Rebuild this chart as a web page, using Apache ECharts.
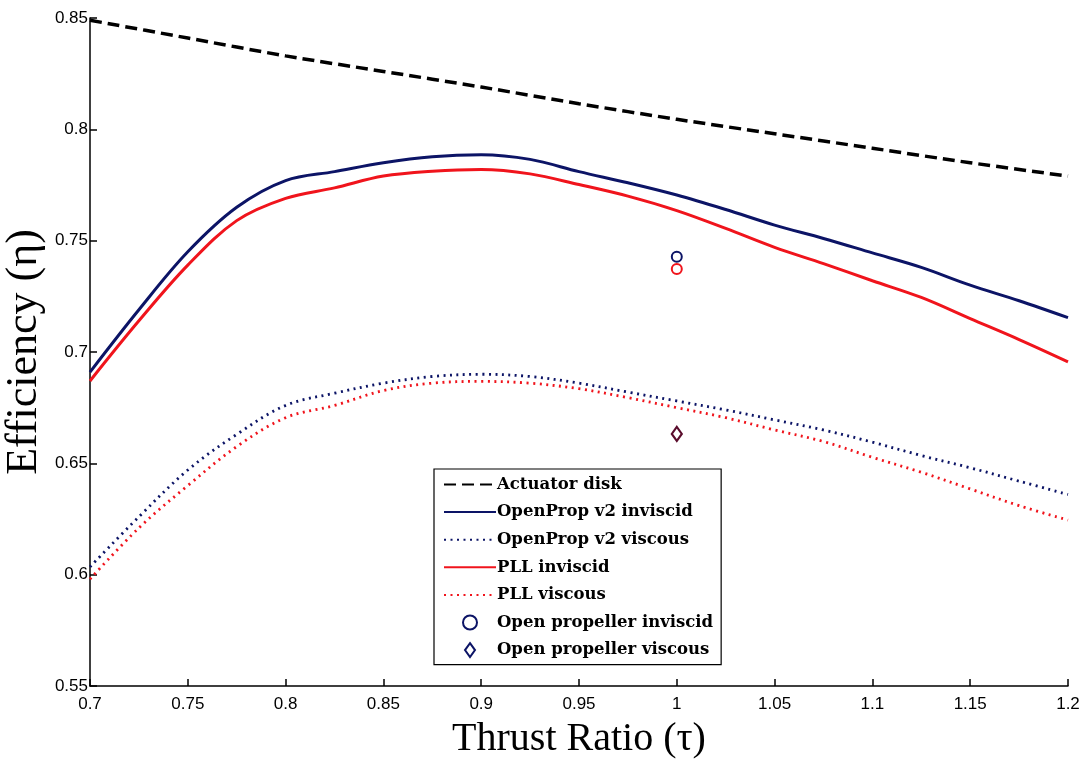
<!DOCTYPE html>
<html>
<head>
<meta charset="utf-8">
<title>Efficiency vs Thrust Ratio</title>
<script src="https://cdn.jsdelivr.net/npm/echarts@6/dist/echarts.min.js"></script>
<style>
  html, body { margin: 0; padding: 0; background: #fff; }
  #chart { width: 1083px; height: 761px; }
</style>
</head>
<body>
<div id="chart"></div>
<script>
// Thrust ratio samples for the lifting-line curves
const tau = [0.700, 0.725, 0.750, 0.775, 0.800, 0.825, 0.850, 0.875, 0.900, 0.925, 0.950,
             0.975, 1.000, 1.025, 1.050, 1.075, 1.100, 1.125, 1.150, 1.175, 1.200];

// Thrust ratio samples for the actuator disk limit
const tauDisk = [0.70, 0.75, 0.80, 0.85, 0.90, 0.95, 1.00, 1.05, 1.10, 1.15, 1.20];
const actuatorDisk = [0.849, 0.841, 0.833, 0.826, 0.819, 0.8115, 0.8045, 0.798, 0.7915, 0.785, 0.779];

const openPropInviscid = [0.691, 0.719, 0.745, 0.765, 0.777, 0.781, 0.785, 0.7877, 0.7886, 0.7865, 0.781,
                          0.776, 0.7705, 0.764, 0.757, 0.751, 0.7445, 0.738, 0.730, 0.723, 0.7154];
const openPropViscous = [0.6035, 0.626, 0.647, 0.663, 0.676, 0.6815, 0.686, 0.689, 0.690, 0.689, 0.686,
                         0.682, 0.678, 0.674, 0.6695, 0.665, 0.6595, 0.6535, 0.648, 0.642, 0.636];
const pllInviscid = [0.687, 0.714, 0.739, 0.759, 0.769, 0.7737, 0.779, 0.7812, 0.782, 0.780, 0.7752,
                     0.770, 0.7635, 0.7555, 0.747, 0.7397, 0.732, 0.7245, 0.715, 0.7056, 0.6956];
const pllViscous = [0.598, 0.621, 0.640, 0.6575, 0.6705, 0.676, 0.6827, 0.686, 0.6868, 0.686, 0.6835,
                    0.6795, 0.675, 0.6705, 0.665, 0.6598, 0.6527, 0.646, 0.6385, 0.631, 0.6245];

// Open propeller (panel) results at tau = 1
const openPropellerTau = [1.0];
const openPropellerInviscid = [0.7428];
const openPropellerInviscidPLL = [0.7373];
const openPropellerViscous = [0.6632];

const lineNames = ['Actuator disk', 'OpenProp v2 inviscid', 'OpenProp v2 viscous', 'PLL inviscid', 'PLL viscous'];
const markerNames = ['Open propeller inviscid', 'Open propeller viscous'];

const NAVY = '#0c1466';
const RED = '#f0141c';
const DIAMOND_ICON = 'path://M5,0 L10,7 L5,14 L0,7 Z';

const pairs = (xs, ys) => xs.map((x, i) => [x, ys[i]]);
const fmt = v => String(parseFloat(v.toFixed(2)));

const chart = echarts.init(document.getElementById('chart'), null, { renderer: 'canvas' });

const labelFont = { color: '#000', fontFamily: 'Liberation Sans, Arial, sans-serif', fontSize: 17 };
const titleFont = 'Liberation Serif, Times New Roman, serif';

// Line entries hide the point marker so only the stroke shows in the key
const legendData = lineNames.map(n => ({ name: n, itemStyle: { opacity: 0 } }))
  .concat([
    { name: markerNames[0], icon: 'circle' },
    { name: markerNames[1], icon: DIAMOND_ICON }
  ]);

chart.setOption({
  backgroundColor: '#fff',
  animation: false,
  grid: { left: 90, right: 15, top: 18, bottom: 75, containLabel: false, outerBoundsMode: 'none' },
  xAxis: {
    type: 'value', min: 0.7, max: 1.2, interval: 0.05,
    name: 'Thrust Ratio (\u03c4)', nameLocation: 'middle', nameGap: 33, nameMoveOverlap: false,
    nameTextStyle: { fontFamily: titleFont, fontSize: 40, color: '#000' },
    axisLine: { show: true, onZero: false, lineStyle: { color: '#000', width: 1.5 } },
    axisTick: { show: true, inside: true, length: 7, lineStyle: { color: '#000', width: 1.5 } },
    axisLabel: Object.assign({ margin: 10, formatter: fmt }, labelFont),
    splitLine: { show: false }
  },
  yAxis: {
    type: 'value', min: 0.55, max: 0.85, interval: 0.05,
    name: 'Efficiency (\u03b7)', nameLocation: 'middle', nameGap: 44, nameMoveOverlap: false,
    nameTextStyle: { fontFamily: titleFont, fontSize: 44, color: '#000' },
    axisLine: { show: true, onZero: false, lineStyle: { color: '#000', width: 1.5 } },
    axisTick: { show: true, inside: true, length: 7, lineStyle: { color: '#000', width: 1.5 } },
    axisLabel: Object.assign({ margin: 2, formatter: fmt }, labelFont),
    splitLine: { show: false }
  },
  legend: {
    orient: 'vertical', left: 434, top: 469,
    data: legendData,
    itemWidth: 52, itemHeight: 14, itemGap: 10.6,
    symbolKeepAspect: true,
    padding: [7, 8, 6, 9],
    borderColor: '#000', borderWidth: 1.2, backgroundColor: '#fff',
    textStyle: { fontFamily: 'DejaVu Serif, serif', fontWeight: 'bold', fontSize: 16.5, color: '#000', padding: [0, 0, 0, -4] }
  },
  series: [
    {
      name: 'Actuator disk', type: 'line', data: pairs(tauDisk, actuatorDisk),
      showSymbol: false, symbol: 'none', smooth: 0.3,
      lineStyle: { color: '#000', width: 3.5, type: [12, 6] }, itemStyle: { color: '#000' }
    },
    {
      name: 'PLL inviscid', type: 'line', data: pairs(tau, pllInviscid),
      showSymbol: false, symbol: 'none', smooth: 0.35,
      lineStyle: { color: RED, width: 3 }, itemStyle: { color: RED }
    },
    {
      name: 'OpenProp v2 inviscid', type: 'line', data: pairs(tau, openPropInviscid),
      showSymbol: false, symbol: 'none', smooth: 0.35,
      lineStyle: { color: NAVY, width: 3 }, itemStyle: { color: NAVY }
    },
    {
      name: 'PLL viscous', type: 'line', data: pairs(tau, pllViscous),
      showSymbol: false, symbol: 'none', smooth: 0.35,
      lineStyle: { color: RED, width: 2.8, type: [2, 4.5] }, itemStyle: { color: RED }
    },
    {
      name: 'OpenProp v2 viscous', type: 'line', data: pairs(tau, openPropViscous),
      showSymbol: false, symbol: 'none', smooth: 0.35,
      lineStyle: { color: NAVY, width: 2.8, type: [2, 4.5] }, itemStyle: { color: NAVY }
    },
    {
      name: 'Open propeller inviscid', type: 'scatter', data: pairs(openPropellerTau, openPropellerInviscid),
      symbol: 'circle', symbolSize: 10,
      itemStyle: { color: 'rgba(255,255,255,0)', borderColor: NAVY, borderWidth: 2, opacity: 1 }
    },
    {
      name: 'Open propeller inviscid (PLL)', type: 'scatter', data: pairs(openPropellerTau, openPropellerInviscidPLL),
      symbol: 'circle', symbolSize: 10,
      itemStyle: { color: 'rgba(255,255,255,0)', borderColor: RED, borderWidth: 2, opacity: 1 }
    },
    {
      name: 'Open propeller viscous', type: 'scatter',
      data: pairs(openPropellerTau, openPropellerViscous).map(p => ({ value: p, itemStyle: { borderColor: '#5a0c2c' } })),
      symbol: DIAMOND_ICON, symbolSize: [10, 14],
      itemStyle: { color: 'rgba(255,255,255,0)', borderColor: NAVY, borderWidth: 2.2, opacity: 1 }
    }
  ]
});
</script>
</body>
</html>
